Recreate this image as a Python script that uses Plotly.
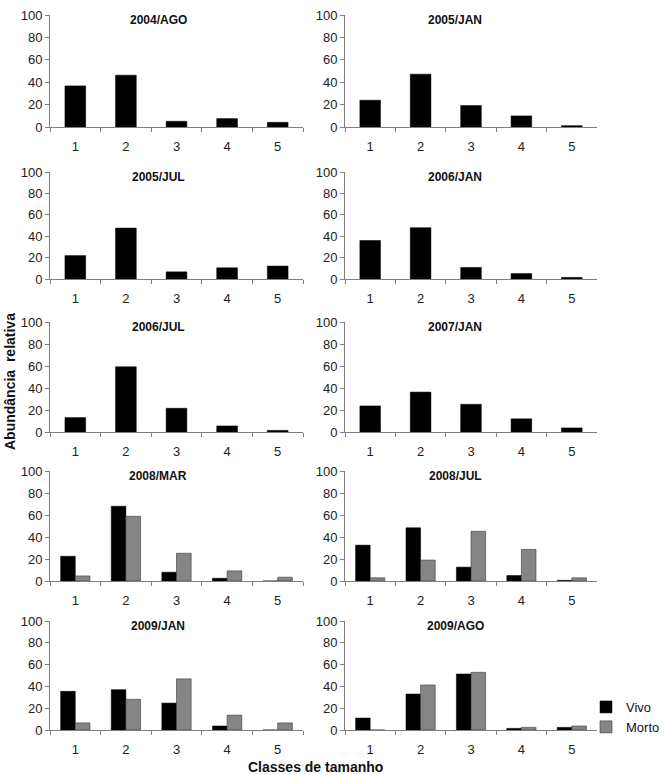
import plotly.graph_objects as go
from plotly.subplots import make_subplots

# ---------------- data ----------------
classes = ["1", "2", "3", "4", "5"]
panel_titles = ["2004/AGO", "2005/JAN", "2005/JUL", "2006/JAN", "2006/JUL",
                "2007/JAN", "2008/MAR", "2008/JUL", "2009/JAN", "2009/AGO"]

vivo_2004_ago = [36.7, 46.3, 5.1, 7.5, 4.2]
vivo_2005_jan = [23.9, 47.2, 19.2, 9.9, 1.2]
vivo_2005_jul = [21.9, 47.6, 6.7, 10.5, 12.1]
vivo_2006_jan = [36.0, 48.0, 10.8, 5.1, 1.5]
vivo_2006_jul = [13.1, 59.3, 21.6, 5.5, 1.5]
vivo_2007_jan = [23.7, 36.3, 25.2, 12.0, 3.7]
vivo_2008_mar = [22.5, 68.0, 8.0, 2.5, 0.0]
vivo_2008_jul = [32.6, 48.4, 12.6, 5.0, 0.6]
vivo_2009_jan = [35.5, 37.0, 24.7, 3.7, 0.0]
vivo_2009_ago = [11.0, 33.0, 51.4, 1.5, 2.4]

morto_2008_mar = [4.6, 58.8, 25.2, 9.2, 3.4]
morto_2008_jul = [2.9, 19.0, 45.2, 28.7, 2.9]
morto_2009_jan = [6.5, 28.1, 46.9, 13.6, 6.5]
morto_2009_ago = [0.0, 41.3, 52.9, 2.4, 3.7]

vivo = [vivo_2004_ago, vivo_2005_jan, vivo_2005_jul, vivo_2006_jan, vivo_2006_jul,
        vivo_2007_jan, vivo_2008_mar, vivo_2008_jul, vivo_2009_jan, vivo_2009_ago]
morto = [None, None, None, None, None, None,
         morto_2008_mar, morto_2008_jul, morto_2009_jan, morto_2009_ago]

series_names = ["Vivo", "Morto"]
y_ticks = [0, 20, 40, 60, 80, 100]

# ---------------- layout geometry ----------------
W, H = 664, 775
col_px = [(50, 303), (345, 597)]
row_px = [(15, 127), (172, 279), (322, 432), (471, 581), (621, 730)]
title_x_px = [158, 455]

FONT = "Arial, Liberation Sans, sans-serif"
AXIS_COLOR = "#7f7f7f"

fig = make_subplots(rows=5, cols=2)

annotations = []
for i, title in enumerate(panel_titles):
    r, c = divmod(i, 2)
    n = i + 1
    two = morto[i] is not None
    fig.add_trace(go.Bar(
        x=classes, y=vivo[i], name=series_names[0],
        marker=dict(color="#000000", line=dict(color="#000000", width=0.5)),
        width=0.29 if two else 0.41,
        offset=-0.29 if two else -0.205,
        showlegend=(i == 9), legendgroup="v",
    ), row=r + 1, col=c + 1)
    if two:
        fig.add_trace(go.Bar(
            x=classes, y=morto[i], name=series_names[1],
            marker=dict(color="#858585", line=dict(color="#3a3a3a", width=0.6)),
            width=0.29, offset=0.0,
            showlegend=(i == 9), legendgroup="m",
        ), row=r + 1, col=c + 1)

    x0, x1 = col_px[c]
    y0, y1 = row_px[r]
    xa = "xaxis" if n == 1 else f"xaxis{n}"
    ya = "yaxis" if n == 1 else f"yaxis{n}"
    fig.layout[xa].update(
        domain=[x0 / W, x1 / W], type="category", range=[-0.5, 4.5],
        tickson="boundaries", ticks="outside", ticklen=4, tickwidth=1,
        tickcolor=AXIS_COLOR, showline=True, linecolor=AXIS_COLOR, linewidth=1,
        showgrid=False, zeroline=False, ticklabelstandoff=7, automargin=False,
        tickfont=dict(family=FONT, size=13, color="#222"),
    )
    fig.layout[ya].update(
        domain=[1 - y1 / H, 1 - y0 / H], range=[0, 100], tickvals=y_ticks,
        ticks="outside", ticklen=4, tickwidth=1, tickcolor=AXIS_COLOR,
        showline=True, linecolor=AXIS_COLOR, linewidth=1,
        showgrid=False, zeroline=False, automargin=False,
        tickfont=dict(family=FONT, size=13, color="#222"),
    )
    annotations.append(dict(
        text=f"<b>{title}</b>", x=title_x_px[c] / W, y=1 - (y0 + 5) / H,
        xref="paper", yref="paper", xanchor="center", yanchor="middle",
        showarrow=False, font=dict(family=FONT, size=12, color="#111"),
    ))

annotations.append(dict(
    text="<b>Abundância  relativa</b>", x=10 / W, y=1 - 382 / H,
    xref="paper", yref="paper", xanchor="center", yanchor="middle",
    textangle=-90, showarrow=False, font=dict(family=FONT, size=14, color="#111"),
))
annotations.append(dict(
    text="<b>Classes de tamanho</b>", x=315 / W, y=(H - 757) / H,
    xref="paper", yref="paper", xanchor="center", yanchor="top",
    showarrow=False, font=dict(family=FONT, size=14, color="#111"),
))

fig.update_layout(
    width=W, height=H, autosize=False,
    margin=dict(l=0, r=0, t=0, b=0, pad=0, autoexpand=False),
    paper_bgcolor="white", plot_bgcolor="white",
    barmode="overlay",
    annotations=annotations,
    showlegend=True,
    legend=dict(x=586 / W, y=1 - 692 / H, xanchor="left", yanchor="top",
                font=dict(family=FONT, size=13, color="#111"),
                bgcolor="rgba(255,255,255,0)", tracegroupgap=0,
                itemwidth=30, traceorder="normal"),
)

fig.write_html(
    "out.html",
    config={"displayModeBar": False},
    post_script="document.body.style.margin='0';document.body.style.overflow='hidden';",
)
